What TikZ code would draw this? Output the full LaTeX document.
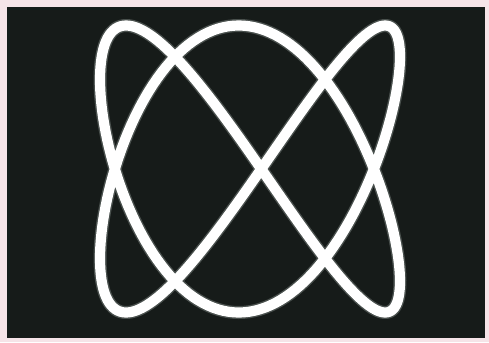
\documentclass[tikz,border=0pt]{standalone}
\usepackage{tikz}
\definecolor{framepink}{RGB}{246,228,232}
\definecolor{screenbg}{RGB}{22,27,25}
\definecolor{glowgray}{RGB}{170,180,175}

\begin{document}
\begin{tikzpicture}[x=0.02cm,y=-0.02cm,
  trace/.style={white,line width=5.8pt,line join=round},
  glow/.style={glowgray,line width=7.4pt,line join=round,opacity=0.35}]
% frame and screen
\fill[framepink] (0,0) rectangle (489,342);
\fill[screenbg] (7,7) rectangle (485,338);
% lissajous trace, 2:3
\draw[glow] plot[domain=0:360,samples=361,variable=\t]
  ({250+150*sin(2*\t+4.3)},{169-143.5*sin(3*\t)}) -- cycle;
\draw[trace] plot[domain=0:360,samples=361,variable=\t]
  ({250+150*sin(2*\t+4.3)},{169-143.5*sin(3*\t)}) -- cycle;
\end{tikzpicture}
\end{document}
